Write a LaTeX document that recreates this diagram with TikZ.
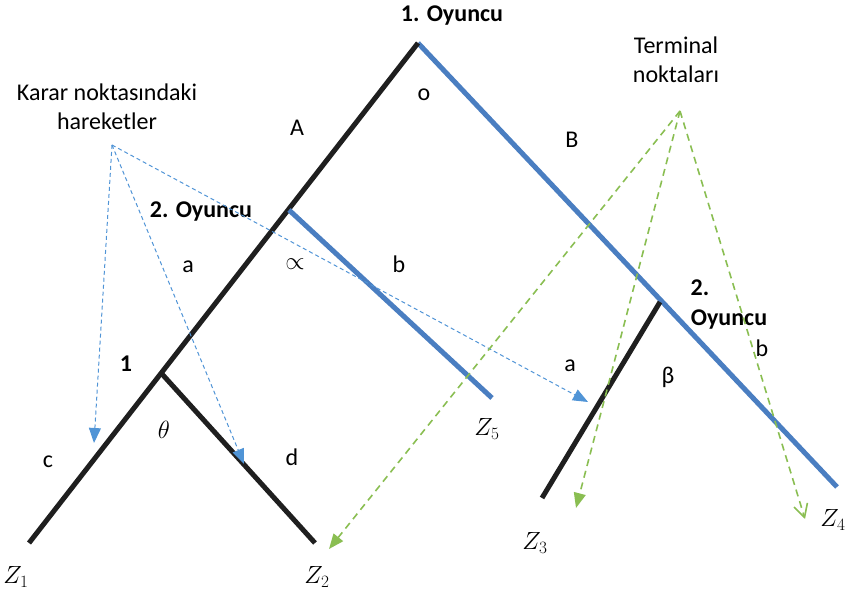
\documentclass[tikz,border=0pt]{standalone}
\usepackage{fontspec}
\setmainfont{Carlito}
\usetikzlibrary{arrows.meta}
\definecolor{treeblue}{RGB}{74,126,193}
\definecolor{dblue}{RGB}{80,148,214}
\definecolor{dgreen}{RGB}{138,190,82}
\begin{document}
\begin{tikzpicture}[x=1pt,y=-1pt,
  blk/.style={line width=5pt, black!88},
  blu/.style={line width=5pt, treeblue},
  lbl/.style={inner sep=0pt, font=\fontsize{24}{28}\selectfont},
  bld/.style={inner sep=0pt, font=\bfseries\fontsize{24}{28}\selectfont},
  zl/.style={inner sep=0pt, font=\fontsize{25}{29}\selectfont},
  note/.style={inner sep=0pt, align=center, font=\fontsize{24}{29}\selectfont},
  bdash/.style={dblue, line width=1pt, dash pattern=on 4pt off 3pt, -{Triangle[length=15pt,width=12pt]}},
  gdash/.style={dgreen, line width=1.6pt, dash pattern=on 7pt off 5pt, -{Triangle[length=15pt,width=12pt]}},
  gopen/.style={dgreen, line width=1.6pt, dash pattern=on 7pt off 5pt, -{Straight Barb[length=13pt,width=14pt]}}]
\useasboundingbox (0,0) rectangle (851,593);
% coordinates
\coordinate (root) at (418,43);
\coordinate (z1end) at (29,543);
\coordinate (z4end) at (837,487);
\coordinate (p2) at (289,210);
\coordinate (z5end) at (492,398);
\coordinate (p1) at (162,374);
\coordinate (z2end) at (315,543);
\coordinate (p3) at (660,302);
\coordinate (z3end) at (542,498);
\coordinate (hb) at (112,145);
\coordinate (tg) at (680,111);
\coordinate (tc) at (94,443);
\coordinate (td) at (244,464);
\coordinate (ta) at (588,402);
\coordinate (tz2) at (329,549);
\coordinate (tz3) at (576,508);
\coordinate (tz4) at (805,519);
% tree
\draw[blu] (root) -- (z4end);
\draw[blk] (root) -- (z1end);
\draw[blu] (p2) -- (z5end);
\draw[blk] (p1) -- (z2end);
\draw[blk] (p3) -- (z3end);
% labels
\node[bld] (pl1) at (452,16) {1. Oyuncu};
\node[lbl] (lo) at (424,95) {o};
\node[lbl] (lA) at (297,128) {A};
\node[lbl] (lB) at (572,140) {B};
\node[bld] (pl2) at (201,212) {2. Oyuncu};
\node[lbl] (la) at (188,267) {a};
\node[lbl] (lprop) at (295,264) {$\propto$};
\node[lbl] (lb) at (399,264) {b};
\node[bld] (n1) at (126,364) {1};
\node[lbl] (lth) at (164,430) {$\theta$};
\node[lbl] (lc) at (48,462) {c};
\node[lbl] (ld) at (292,457) {d};
\node[lbl] (la2) at (570,366) {a};
\node[lbl] (lbeta) at (668,377) {β};
\node[bld] (pl3a) at (700,288) {2.};
\node[bld] (pl3b) at (729,320) {Oyuncu};
\node[lbl] (lb2) at (762,348) {b};
\node[zl] (Z1) at (16,577) {$Z_1$};
\node[zl] (Z2) at (317,577) {$Z_2$};
\node[zl] (Z3) at (535,543) {$Z_3$};
\node[zl] (Z4) at (833,520) {$Z_4$};
\node[zl] (Z5) at (487,429) {$Z_5$};
\node[note] (karar) at (107,107) {Karar noktasındaki\\hareketler};
\node[note] (term) at (676,60) {Terminal\\noktaları};
% annotation arrows
\draw[bdash] (hb) -- (tc);
\draw[bdash] (hb) -- (td);
\draw[bdash] (hb) -- (ta);
\draw[gdash] (tg) -- (tz2);
\draw[gdash] (tg) -- (tz3);
\draw[gopen] (tg) -- (tz4);
\end{tikzpicture}
\end{document}
